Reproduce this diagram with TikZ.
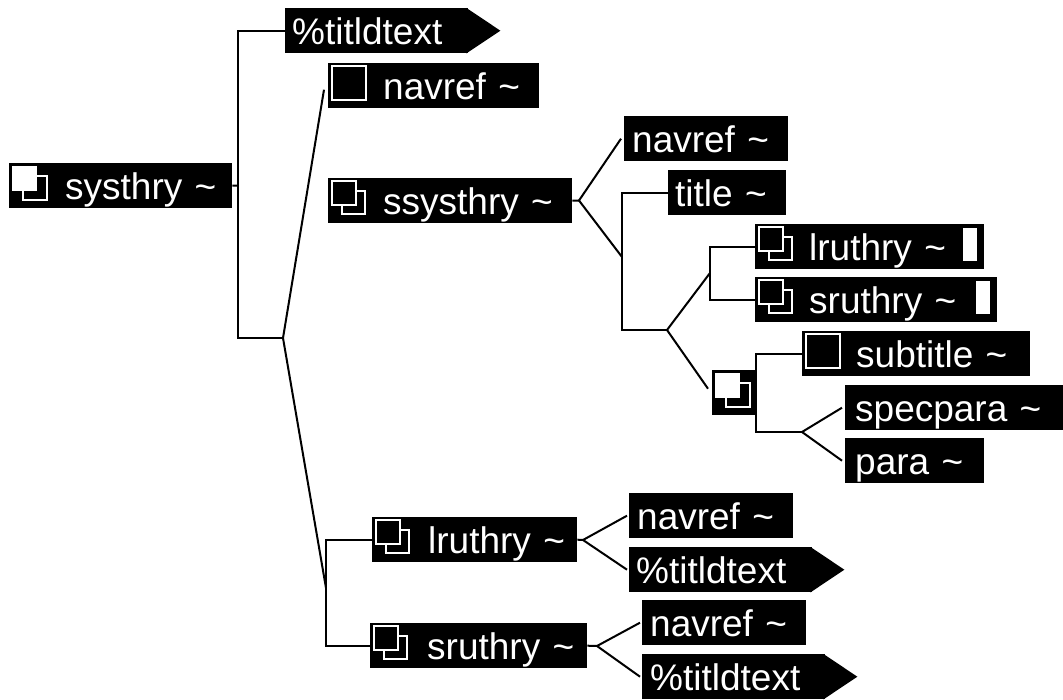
\documentclass[tikz,border=0pt]{standalone}
\usepackage{fontspec}
\setmainfont{Liberation Sans}
\usetikzlibrary{calc}
\begin{document}
\begin{tikzpicture}[x=1pt,y=-1pt,
  tag/.style={anchor=north west, fill=black, text=white, inner xsep=0pt, inner ysep=0pt,
    text height=36pt, text depth=9pt, align=left, font=\fontsize{37}{40}\selectfont},
  link/.style={line width=2pt, black},
  iconline/.style={draw=white, line width=2pt},
  pics/solo/.style={code={\draw[iconline] (4,3) rectangle (38,37);}},
  pics/pair/.style={code={\draw[iconline] (14,13) rectangle (37,36);
                          \draw[iconline,fill=black] (4,3) rectangle (28,27);}},
  pics/pairwhite/.style={code={\draw[iconline] (14,13) rectangle (38,37);
                               \fill[white] (3,3) rectangle (28,28);}},
  pics/bar/.style={code={\fill[white] (-21,4) rectangle (-7,37);}},
]
\useasboundingbox (0,0) rectangle (1063,700);

% element boxes
\node[tag, text width=223pt] (sys)   at (9,163)   {\hspace*{56pt}systhry \textasciitilde};
\node[tag, text width=183pt] (tt1)   at (285,8)   {\hspace*{7pt}\%titldtext};
\node[tag, text width=211pt] (nav1)  at (328,63)  {\hspace*{55pt}navref \textasciitilde};
\node[tag, text width=244pt] (ssys)  at (328,178) {\hspace*{55pt}ssysthry \textasciitilde};
\node[tag, text width=164pt] (nav2)  at (624,116) {\hspace*{8pt}navref \textasciitilde};
\node[tag, text width=118pt] (title) at (668,170) {\hspace*{7pt}title \textasciitilde};
\node[tag, text width=229pt] (lru1)  at (755,224) {\hspace*{54pt}lruthry \textasciitilde};
\node[tag, text width=242pt] (sru1)  at (755,277) {\hspace*{54pt}sruthry \textasciitilde};
\node[tag, text width=44pt]  (ch)    at (712,370) {};
\node[tag, text width=228pt] (sub)   at (802,331) {\hspace*{54pt}subtitle \textasciitilde};
\node[tag, text width=218pt] (spec)  at (845,385) {\hspace*{10pt}specpara \textasciitilde};
\node[tag, text width=139pt] (para)  at (845,438) {\hspace*{10pt}para \textasciitilde};
\node[tag, text width=205pt] (lru2)  at (372,517) {\hspace*{56pt}lruthry \textasciitilde};
\node[tag, text width=217pt] (sru2)  at (370,623) {\hspace*{57pt}sruthry \textasciitilde};
\node[tag, text width=164pt] (nav3)  at (629,493) {\hspace*{8pt}navref \textasciitilde};
\node[tag, text width=183pt] (tt2)   at (629,547) {\hspace*{7pt}\%titldtext};
\node[tag, text width=164pt] (nav4)  at (642,600) {\hspace*{8pt}navref \textasciitilde};
\node[tag, text width=183pt] (tt3)   at (642,654) {\hspace*{8pt}\%titldtext};

% pointed ends of the text tags
\foreach \t in {tt1,tt2,tt3}
  \fill ($(\t.north east)+(-2,0)$) -- ($(\t.east)+(32,0)$) -- ($(\t.south east)+(-2,0)$) -- cycle;

% icons
\pic at (sys.north west)  {pairwhite};
\pic at (ch.north west)   {pairwhite};
\pic at (nav1.north west) {solo};
\pic at (sub.north west)  {solo};
\pic at (ssys.north west) {pair};
\pic at (lru1.north west) {pair};
\pic at (sru1.north west) {pair};
\pic at (lru2.north west) {pair};
\pic at (sru2.north west) {pair};
\pic at (lru1.north east) {bar};
\pic at (sru1.north east) {bar};

% connectors
\coordinate (s0) at (238,185.5);
\coordinate (j1) at (283,338);
\draw[link] (sys.east) -- (s0);
\draw[link] (tt1.west) -| (s0) |- (j1);
\draw[link] (j1) -- ($(nav1.west)+(-4,4)$);
\coordinate (jb) at (326,588);
\draw[link] (j1) -- (jb);
\draw[link] (lru2.west) -| (jb) |- (sru2.west);

\coordinate (js) at (579,200.5);
\draw[link] (ssys.east) -- (js);
\draw[link] (js) -- ($(nav2.west)+(-3,0)$);
\coordinate (jt) at (622,257);
\draw[link] (js) -- (jt);
\coordinate (jc) at (667,330);
\draw[link] (title.west) -| (jt) |- (jc);
\coordinate (ju) at (710,273);
\draw[link] (jc) -- (ju);
\draw[link] (lru1.west) -| (ju) |- (sru1.west);
\draw[link] (jc) -- ($(ch.west)+(-4,-4)$);
\coordinate (jp) at (802,432);
\draw[link] (sub.west) -| (ch.east) |- (jp);
\draw[link] (jp) -- ($(spec.west)+(-3,0)$);
\draw[link] (jp) -- ($(para.west)+(-3,0)$);

\coordinate (j2) at (583,540);
\draw[link] (lru2.east) -- (j2);
\draw[link] (j2) -- ($(nav3.west)+(-2,0)$);
\draw[link] (j2) -- ($(tt2.west)+(-2,0)$);
\coordinate (j3) at (597,646);
\draw[link] (sru2.east) -- (j3);
\draw[link] (j3) -- ($(nav4.west)+(-2,0)$);
\draw[link] (j3) -- ($(tt3.west)+(-2,0)$);
\end{tikzpicture}
\end{document}
